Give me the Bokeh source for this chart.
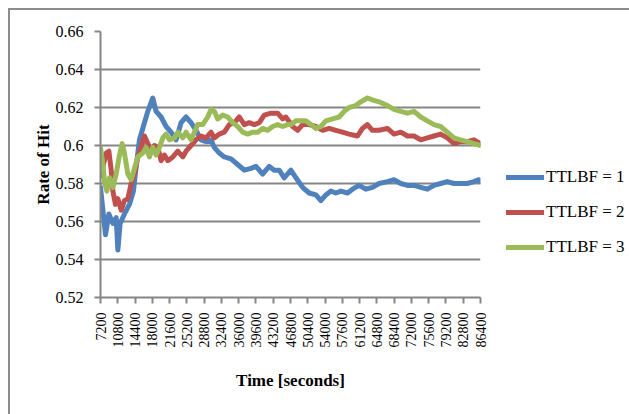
import math
from bokeh.plotting import figure
from bokeh.models import Range1d, FixedTicker, Legend, LegendItem
from bokeh.embed import file_html
from bokeh.resources import INLINE

# ---- data ----
x_ticks = [7200 + 3600 * i for i in range(23)]
x_labels = [str(t) for t in x_ticks]
y_ticks = [0.52, 0.54, 0.56, 0.58, 0.6, 0.62, 0.64, 0.66]
y_labels = ["0.52", "0.54", "0.56", "0.58", "0.6", "0.62", "0.64", "0.66"]

series_names = ["TTLBF = 1", "TTLBF = 2", "TTLBF = 3"]
series_colors = ["#4F81BD", "#C0504D", "#9BBB59"]

blue_t = [7200, 7450, 8240, 8950, 9780, 10470, 10820, 11300, 12190, 13230, 14070, 14630,
          15320, 16360, 17060, 18100, 18790, 19830, 20870, 21910, 22950, 23990, 25030,
          26070, 27120, 28160, 29200, 30240, 30920, 31960, 33000, 34400, 35790, 37170,
          38560, 39600, 40990, 42370, 43410, 44450, 45490, 46890, 47930, 49320, 50690,
          52090, 53130, 54170, 55210, 56250, 57290, 58680, 59720, 61100, 62490, 63870,
          65260, 67010, 68380, 69780, 71170, 72540, 73940, 75330, 76710, 78090, 79490,
          80870, 82260, 83650, 85030, 86070, 86400]
blue_v = [0.578, 0.572, 0.553, 0.564, 0.559, 0.562, 0.545, 0.559, 0.564, 0.569, 0.576, 0.589,
          0.603, 0.612, 0.618, 0.625, 0.618, 0.615, 0.610, 0.607, 0.603, 0.612, 0.615,
          0.612, 0.608, 0.603, 0.602, 0.603, 0.599, 0.596, 0.594, 0.593, 0.590, 0.587,
          0.588, 0.589, 0.585, 0.589, 0.587, 0.587, 0.583, 0.587, 0.583, 0.578, 0.575,
          0.574, 0.571, 0.574, 0.576, 0.575, 0.576, 0.575, 0.577, 0.579, 0.577, 0.578,
          0.580, 0.581, 0.582, 0.580, 0.579, 0.579, 0.578, 0.577, 0.579, 0.580, 0.581,
          0.580, 0.580, 0.580, 0.581, 0.582, 0.581]

red_t = [7200, 7700, 8390, 8950, 9430, 9780, 10320, 10820, 11510, 12190, 12900, 13590,
         14280, 14980, 15670, 16360, 17060, 17750, 18440, 19150, 19830, 20520, 21230,
         22270, 23310, 24350, 25030, 26070, 27120, 28160, 29200, 30240, 30920, 31960,
         33000, 34040, 35090, 36130, 37170, 38210, 39250, 40290, 41330, 42720, 44120,
         45160, 45830, 47240, 48280, 49320, 50690, 52090, 53490, 54860, 56250, 57640,
         59020, 60770, 61800, 62830, 63870, 65260, 67010, 68380, 69780, 71170, 72540,
         73940, 75330, 76710, 78090, 79490, 80870, 82260, 83650, 85030, 86400]
red_v = [0.584, 0.589, 0.596, 0.597, 0.587, 0.576, 0.569, 0.572, 0.566, 0.571, 0.572, 0.580,
         0.585, 0.594, 0.599, 0.605, 0.601, 0.597, 0.600, 0.599, 0.592, 0.595, 0.592,
         0.594, 0.597, 0.594, 0.597, 0.600, 0.603, 0.605, 0.604, 0.607, 0.604, 0.606,
         0.607, 0.611, 0.612, 0.615, 0.611, 0.612, 0.611, 0.612, 0.616, 0.617, 0.617,
         0.614, 0.615, 0.610, 0.608, 0.611, 0.611, 0.610, 0.608, 0.609, 0.608, 0.607,
         0.606, 0.605, 0.609, 0.611, 0.608, 0.608, 0.609, 0.606, 0.607, 0.605, 0.605,
         0.603, 0.604, 0.605, 0.606, 0.604, 0.601, 0.602, 0.602, 0.603, 0.601]

green_t = [7200, 7700, 8030, 8530, 9070, 9780, 10470, 11150, 11720, 12190, 12900, 13590,
           14280, 14980, 16020, 16710, 17400, 18100, 18790, 19480, 20190, 20870, 21560,
           22600, 23310, 24350, 25030, 26070, 26760, 27470, 28510, 29550, 30240, 30920,
           31630, 32670, 33710, 34750, 35790, 36830, 37870, 38910, 39950, 40990, 42040,
           43080, 44120, 45160, 46190, 46890, 47930, 48970, 50010, 51050, 52090, 53130,
           54170, 55560, 56940, 57980, 59020, 60410, 61450, 62830, 63870, 65260, 67010,
           68380, 69780, 71170, 72540, 73940, 75330, 76710, 78090, 79490, 80870, 82260,
           83650, 85030, 86400]
green_v = [0.599, 0.590, 0.581, 0.576, 0.583, 0.578, 0.585, 0.595, 0.601, 0.596, 0.585, 0.582,
           0.588, 0.594, 0.596, 0.599, 0.594, 0.599, 0.595, 0.599, 0.604, 0.606, 0.603,
           0.604, 0.607, 0.604, 0.607, 0.603, 0.607, 0.611, 0.611, 0.615, 0.619, 0.618,
           0.614, 0.616, 0.615, 0.612, 0.610, 0.607, 0.606, 0.607, 0.607, 0.609, 0.608,
           0.610, 0.611, 0.610, 0.611, 0.611, 0.613, 0.613, 0.613, 0.611, 0.609, 0.610,
           0.613, 0.614, 0.615, 0.618, 0.620, 0.621, 0.623, 0.625, 0.624, 0.623, 0.621,
           0.619, 0.618, 0.617, 0.618, 0.615, 0.613, 0.611, 0.610, 0.607, 0.604, 0.603,
           0.602, 0.601, 0.600]

# ---- figure ----
SERIF = "Liberation Serif"
GRAY = "#868686"

p = figure(frame_width=380, frame_height=266, output_backend="svg", toolbar_location=None,
           x_range=Range1d(7200, 86400), y_range=Range1d(0.52, 0.66),
           min_border_left=90, min_border_right=149, min_border_top=21,
           min_border_bottom=117)
p.styles = {"margin-left": "8px", "margin-top": "8px",
            "border-left": "2px solid #8c8c8c", "border-top": "2px solid #8c8c8c"}
p.outline_line_color = None
p.background_fill_color = "white"
p.border_fill_color = "white"

p.xgrid.visible = False
p.ygrid.ticker = FixedTicker(ticks=y_ticks)
p.ygrid.grid_line_color = GRAY
p.ygrid.grid_line_width = 2

# x axis
p.xaxis.ticker = FixedTicker(ticks=x_ticks)
p.xaxis.major_label_overrides = {t: l for t, l in zip(x_ticks, x_labels)}
p.xaxis.major_label_orientation = math.pi / 2
p.xaxis.major_label_text_font = SERIF
p.xaxis.major_label_text_font_size = "14px"
p.xaxis.major_label_text_color = "black"
p.xaxis.major_label_standoff = 9
p.xaxis.axis_label = "Time [seconds]"
p.xaxis.axis_label_text_font = SERIF
p.xaxis.axis_label_text_font_size = "17px"
p.xaxis.axis_label_text_font_style = "bold"
p.xaxis.axis_label_text_color = "black"
p.xaxis.axis_label_standoff = 20

# y axis
p.yaxis.ticker = FixedTicker(ticks=y_ticks)
p.yaxis.major_label_overrides = {t: l for t, l in zip(y_ticks, y_labels)}
p.yaxis.major_label_text_font = SERIF
p.yaxis.major_label_text_font_size = "16px"
p.yaxis.major_label_text_color = "black"
p.yaxis.major_label_standoff = 11
p.yaxis.axis_label = "Rate of Hit"
p.yaxis.axis_label_text_font = SERIF
p.yaxis.axis_label_text_font_size = "17px"
p.yaxis.axis_label_text_font_style = "bold"
p.yaxis.axis_label_text_color = "black"
p.yaxis.axis_label_standoff = 0

for ax in (p.xaxis, p.yaxis):
    ax.axis_line_color = GRAY
    ax.axis_line_width = 2
    ax.major_tick_line_color = GRAY
    ax.major_tick_line_width = 2
    ax.major_tick_in = 0
    ax.major_tick_out = 6
    ax.minor_tick_line_color = None

renderers = []
for t, v, c in zip([blue_t, red_t, green_t], [blue_v, red_v, green_v], series_colors):
    r = p.line(t, v, line_width=5, line_color=c, line_join="round", line_cap="round")
    renderers.append(r)

legend = Legend(items=[LegendItem(label=n, renderers=[r]) for n, r in zip(series_names, renderers)],
                location=(26, 40), orientation="vertical",
                glyph_width=38, glyph_height=20, label_height=20, label_standoff=2,
                spacing=15, padding=0, margin=0, border_line_color=None,
                background_fill_alpha=0, label_text_font=SERIF,
                label_text_font_size="17px", label_text_color="black")
p.add_layout(legend, "right")

open("out.html", "w").write(file_html(p, INLINE))
